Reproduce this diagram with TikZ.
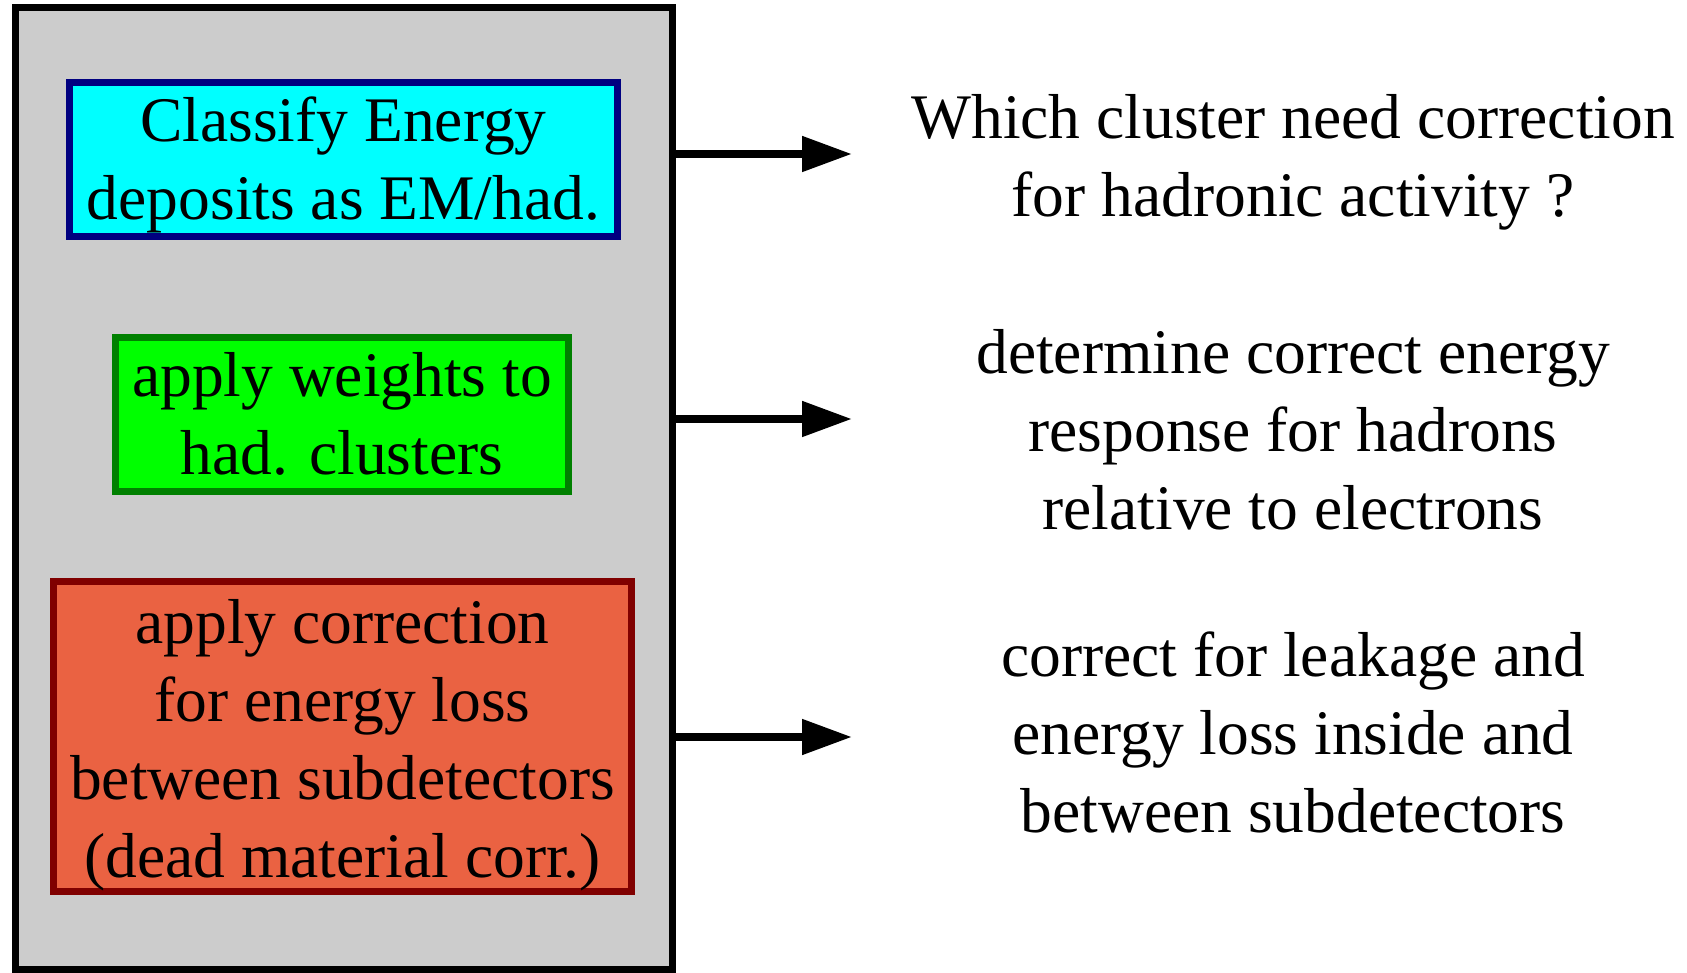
\documentclass[tikz,border=0pt]{standalone}
\usepackage{fontspec}
\setmainfont{Liberation Serif}
\usetikzlibrary{arrows.meta}
\definecolor{panelgrey}{RGB}{204,204,204}
\definecolor{cyanfill}{RGB}{0,255,255}
\definecolor{navyline}{RGB}{0,0,128}
\definecolor{greenfill}{RGB}{0,255,0}
\definecolor{greenline}{RGB}{0,128,0}
\definecolor{redfill}{RGB}{234,98,66}
\definecolor{redline}{RGB}{128,0,0}
\begin{document}
\begin{tikzpicture}[x=1pt,y=-1pt,
  txt/.style={font=\fontsize{63.5}{78}\selectfont, align=center, inner sep=0pt},
  stagebox/.style={line width=7pt, inner sep=0pt},
  arr/.style={line width=8pt, -{Triangle[length=50pt,width=34pt]}}]
\useasboundingbox (0,0) rectangle (1687,973);
\node[draw, line width=7pt, fill=panelgrey, minimum width=657pt, minimum height=961pt, inner sep=0pt] (outer) at (343.5,488.5) {};
\node[stagebox, draw=navyline, fill=cyanfill, minimum width=548pt, minimum height=154pt] (classify) at (343.5,159.5) {};
\node[stagebox, draw=greenline, fill=greenfill, minimum width=453pt, minimum height=154pt] (weights) at (342,414.5) {};
\node[stagebox, draw=redline, fill=redfill, minimum width=578pt, minimum height=310pt] (deadmat) at (342.5,736.5) {};
\node[txt] (classifytext) at ([yshift=-5pt]classify.center) {Classify Energy\\deposits as EM/had.};
\node[txt] (weightstext) at ([yshift=1pt]weights.center) {apply weights to\\had. clusters};
\node[txt] (deadmattext) at ([yshift=-9pt]deadmat.center) {apply correction\\for energy loss\\between subdetectors\\(dead material corr.)};
\node[txt] (q1) at (1293,162) {Which cluster need correction\\for hadronic activity ?};
\node[txt] (q2) at (1293,430) {determine correct energy\\response for hadrons\\relative to electrons};
\node[txt] (q3) at (1293,732) {correct for leakage and\\energy loss inside and\\between subdetectors};
\coordinate (s1) at (672,154); \coordinate (e1) at (852,154);
\coordinate (s2) at (672,419); \coordinate (e2) at (852,419);
\coordinate (s3) at (672,737); \coordinate (e3) at (852,737);
\draw[arr] (s1) -- (e1);
\draw[arr] (s2) -- (e2);
\draw[arr] (s3) -- (e3);
\end{tikzpicture}
\end{document}
